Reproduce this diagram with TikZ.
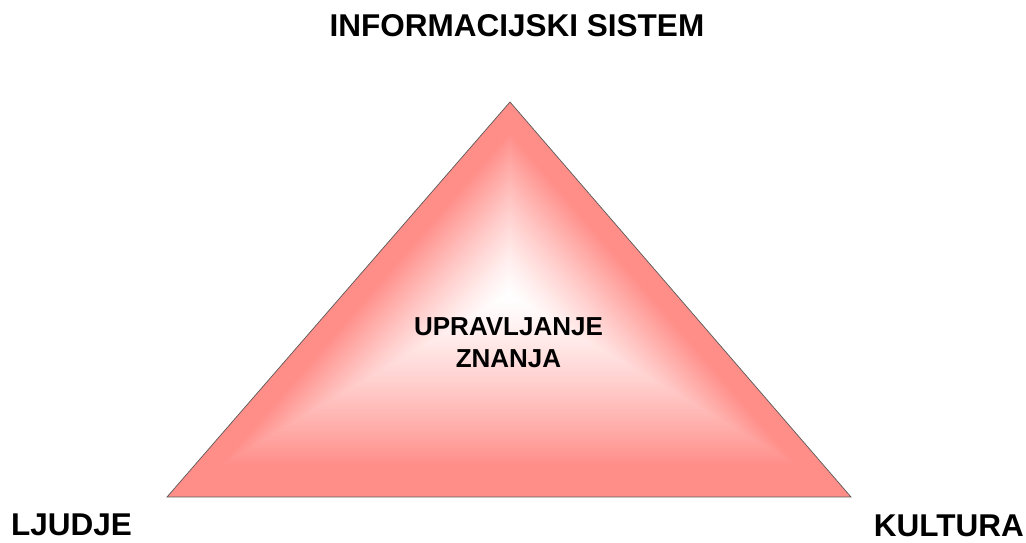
\documentclass[tikz,border=0pt]{standalone}
\usepackage{fontspec}
\setmainfont{Liberation Sans}
\usetikzlibrary{calc}
\definecolor{salmon}{RGB}{255,141,136}
\tikzset{
  lbl/.style={font=\fontsize{31.5}{37}\selectfont\bfseries, inner sep=0pt, text=black},
  midlbl/.style={font=\fontsize{26}{32}\selectfont\bfseries, inner sep=0pt, align=center, text=black},
  edge/.style={draw=black!65, line width=0.7pt}
}
\begin{document}
\begin{tikzpicture}[x=1pt,y=1pt]
\useasboundingbox (0,0) rectangle (1026,543);
% triangle corners (image y flipped: y = 543 - py)
\coordinate (A) at (510,441);
\coordinate (B) at (167,46);
\coordinate (Cc) at (851,46);
\coordinate (M) at (509,248);
% path gradient: concentric triangles from edge (salmon) to centre (white)
\foreach \i in {0,...,119}{
  \pgfmathsetmacro\s{1-\i/120}
  \pgfmathsetmacro\p{100*(min(1,\s/0.85))^1.3}
  \fill[salmon!\p!white] ($(M)!\s!(A)$) -- ($(M)!\s!(B)$) -- ($(M)!\s!(Cc)$) -- cycle;
}
\draw[edge] (A) -- (B) -- (Cc) -- cycle;
\node[lbl, anchor=base] (title) at (517,506) {INFORMACIJSKI SISTEM};
\node[lbl, anchor=base west] (ljudje) at (11,7) {LJUDJE};
\node[lbl, anchor=base east] (kultura) at (1024,6) {KULTURA};
\node[midlbl, anchor=base] (upr) at (508.5,207) {UPRAVLJANJE};
\node[midlbl, anchor=base] (zn) at (508.5,175) {ZNANJA};
\end{tikzpicture}
\end{document}
